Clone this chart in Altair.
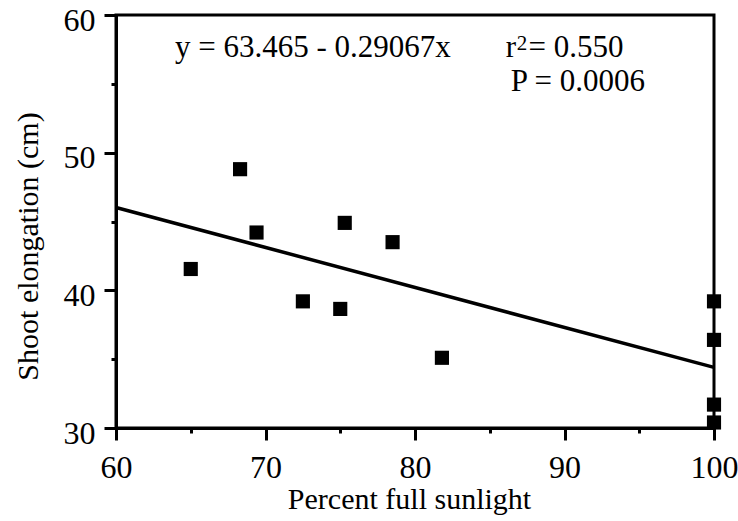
import altair as alt
import pandas as pd

# Data
sun_pct = [65.0, 68.3, 69.4, 72.5, 75.0, 75.3, 78.5, 81.8, 100, 100, 100, 100]
elong_cm = [41.55, 48.8, 44.2, 39.2, 38.65, 44.9, 43.5, 35.1, 39.2, 36.4, 31.7, 30.4]

fit_x = [60, 100]
fit_y = [46.02, 34.4]

# annotation text (main size) and the superscript of r²
ann_x = [63.94, 86.07, 87.6, 86.4]
ann_y = [56.92, 56.92, 56.92, 54.45]
ann_text = ["y = 63.465 - 0.29067x", "r", "= 0.550", "P = 0.0006"]
sup_x = [86.8]
sup_y = [57.45]
sup_text = ["2"]

x_ticks = [60, 65, 70, 75, 80, 85, 90, 95, 100]
y_ticks = [30, 35, 40, 45, 50, 55, 60]

FONT = "Liberation Serif"

pts = pd.DataFrame({"x": sun_pct, "y": elong_cm})
fit = pd.DataFrame({"x": fit_x, "y": fit_y})
ann = pd.DataFrame({"x": ann_x, "y": ann_y, "t": ann_text})
sup = pd.DataFrame({"x": sup_x, "y": sup_y, "t": sup_text})

xscale = alt.Scale(domain=[60, 100], nice=False, zero=False)
yscale = alt.Scale(domain=[30, 60], nice=False, zero=False)

major_tick = {"condition": {"test": "datum.value % 10 == 0", "value": 12}, "value": 5}

xaxis = alt.Axis(
    title="Percent full sunlight", values=x_ticks,
    labelExpr="datum.value % 10 == 0 ? datum.label : ''",
    tickSize=major_tick, tickWidth=3, tickColor="black",
    domainWidth=3, domainColor="black", grid=False,
    labelFont=FONT, labelFontSize=32, labelColor="black", labelPadding=12,
    titleFont=FONT, titleFontSize=30, titleFontWeight="normal", titleColor="black",
    titleX=293, titleY=80, titleBaseline="alphabetic", titleAlign="center",
    labelFlush=False,
)
yaxis = alt.Axis(
    title="Shoot elongation (cm)", values=y_ticks,
    labelExpr="datum.value % 10 == 0 ? datum.label : ''",
    tickSize=major_tick, tickWidth=3, tickColor="black",
    domainWidth=3, domainColor="black", grid=False,
    labelFont=FONT, labelFontSize=32, labelColor="black", labelPadding=9,
    labelOffset=5,
    titleFont=FONT, titleFontSize=30, titleFontWeight="normal", titleColor="black",
    titleX=-88, titleY=231, titleAngle=270, titleAlign="center", titleBaseline="middle",
    labelFlush=False,
)

points = alt.Chart(pts).mark_square(size=200, color="black", opacity=1).encode(
    x=alt.X("x:Q", scale=xscale, axis=xaxis),
    y=alt.Y("y:Q", scale=yscale, axis=yaxis),
)

line = alt.Chart(fit).mark_line(color="black", strokeWidth=3.5).encode(
    x=alt.X("x:Q", scale=xscale),
    y=alt.Y("y:Q", scale=yscale),
)

texts = alt.Chart(ann).mark_text(
    font=FONT, fontSize=31, align="left", baseline="alphabetic", color="black"
).encode(
    x=alt.X("x:Q", scale=xscale),
    y=alt.Y("y:Q", scale=yscale),
    text="t:N",
)

sup_texts = alt.Chart(sup).mark_text(
    font=FONT, fontSize=21, align="left", baseline="alphabetic", color="black"
).encode(
    x=alt.X("x:Q", scale=xscale),
    y=alt.Y("y:Q", scale=yscale),
    text="t:N",
)

chart = alt.layer(line, points, texts, sup_texts).properties(
    width=598, height=413,
    autosize=alt.AutoSizeParams(type="none"),
    padding={"left": 116, "top": 15, "right": 24, "bottom": 93},
    background="white",
).configure_view(stroke="black", strokeWidth=3)

chart.save("out.html", embed_options={"renderer": "svg", "actions": False})
